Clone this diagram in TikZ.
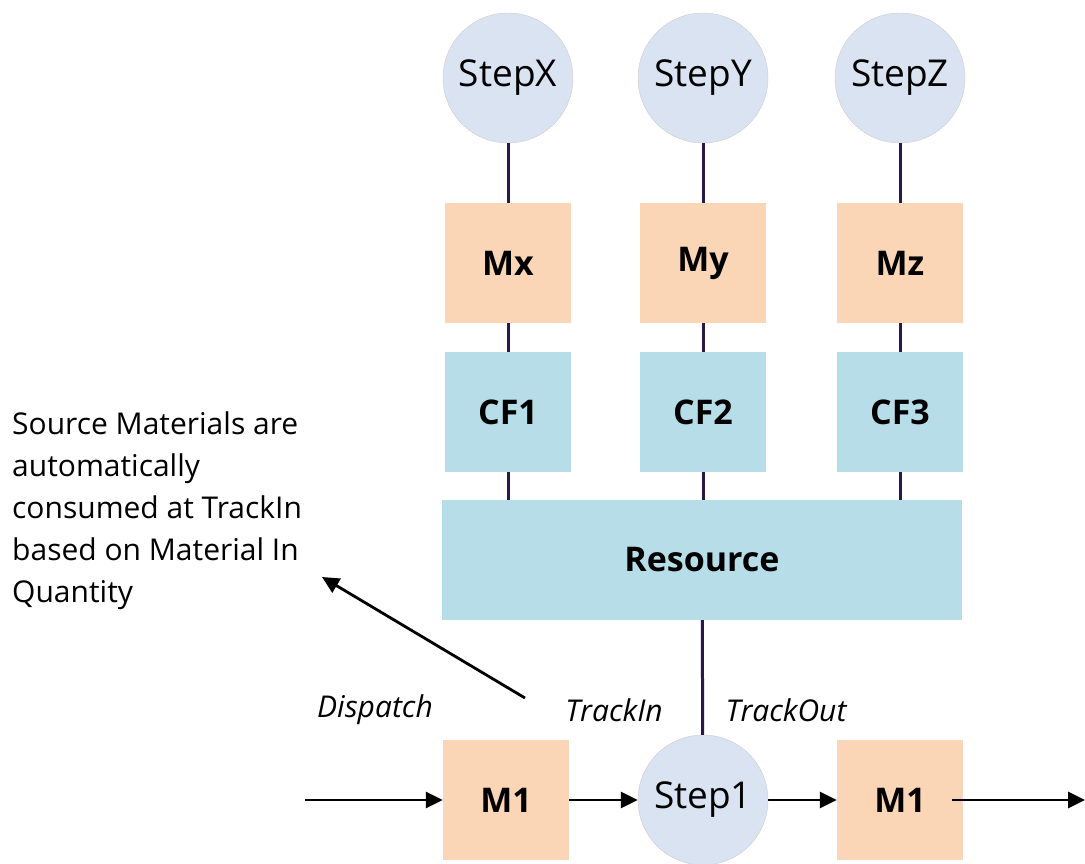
\documentclass[tikz,border=0pt]{standalone}
\usepackage{fontspec}
\setmainfont{Open Sans}
\usepackage{xcolor}
\usetikzlibrary{arrows.meta, positioning}
\definecolor{stepfill}{RGB}{218,227,241}
\definecolor{matfill}{RGB}{251,214,182}
\definecolor{cffill}{RGB}{183,222,232}
\definecolor{linkcol}{RGB}{42,24,72}
\tikzstyle{arrow} = [line width=2.8pt,-{Triangle[length=17pt,width=16pt]}]

\begin{document}
\begin{tikzpicture}[x=1pt, y=-1pt, node distance=149pt, on grid]
        \tikzstyle{stepnode}=[
            circle,
            draw=gray!40,
            fill=stepfill,
            minimum size=130pt, % same for all steps
            inner sep=0pt,
            font=\fontsize{37}{42}\selectfont
        ]
        \tikzstyle{mat}=[fill=matfill, minimum width=126pt, minimum height=120pt,
            font=\bfseries\fontsize{34}{38}\selectfont]
        \tikzstyle{cf}=[fill=cffill, minimum width=126pt, minimum height=120pt,
            font=\bfseries\fontsize{34}{38}\selectfont]
        \tikzstyle{link}=[draw=linkcol, line width=3pt]
        \tikzstyle{lbl}=[font=\itshape\fontsize{30}{34}\selectfont]

        \useasboundingbox (0,0) rectangle (1085,864);

        % top row
        \node[stepnode] (stepx) at (508,78) {StepX};
        \node[stepnode] (stepy) [right=195pt of stepx] {StepY};
        \node[stepnode] (stepz) [right=197pt of stepy] {StepZ};

        \node[mat] (mx) [below=185pt of stepx] {Mx};
        \node[mat] (my) [below=185pt of stepy] {My};
        \node[mat] (mz) [below=185pt of stepz] {Mz};

        \node[cf] (cf1) [below=of mx] {CF1};
        \node[cf] (cf2) [below=of my] {CF2};
        \node[cf] (cf3) [below=of mz] {CF3};

        \node[cf, minimum width=520pt] (res) at (702,560) {Resource};

        % bottom row
        \node[stepnode] (step1) at (703,800) {Step1};
        \node[mat] (m1in) [left=197pt of step1] {M1};
        \node[mat] (m1out) [right=197pt of step1] {M1};

        \node[lbl] (dispatch) at (375,710) {Dispatch};
        \node[lbl] (trackin) at (614,710) {TrackIn};
        \node[lbl] (trackout) at (786,710) {TrackOut};

        \node[anchor=north west, align=left, inner sep=0pt,
            font=\fontsize{30}{42}\selectfont] (note) at (12,412)
            {Source Materials are\\automatically\\consumed at TrackIn\\based on Material In\\Quantity};

        \coordinate (src) at (305,800);
        \coordinate (sink) at (1085,800);
        \coordinate (noteend) at (525,698);
        \coordinate (notetip) at (322,577);

        \foreach \s/\m in {stepx/mx, stepy/my, stepz/mz}
            \draw[link] (\s) -- (\m);
        \foreach \m/\c in {mx/cf1, my/cf2, mz/cf3} {
            \draw[link] (\m) -- (\c);
            \draw[link] (\c) -- (\c |- res.north);
        }
        \draw[link] (res) -- (step1);

        \draw[arrow] (src) -- (m1in);
        \draw[arrow] (m1in) -- (step1);
        \draw[arrow] (step1) -- (m1out);
        \draw[arrow] ([xshift=-11pt]m1out.east) -- (sink);
        \draw[arrow] (noteend) -- (notetip);

    \end{tikzpicture}
\end{document}
